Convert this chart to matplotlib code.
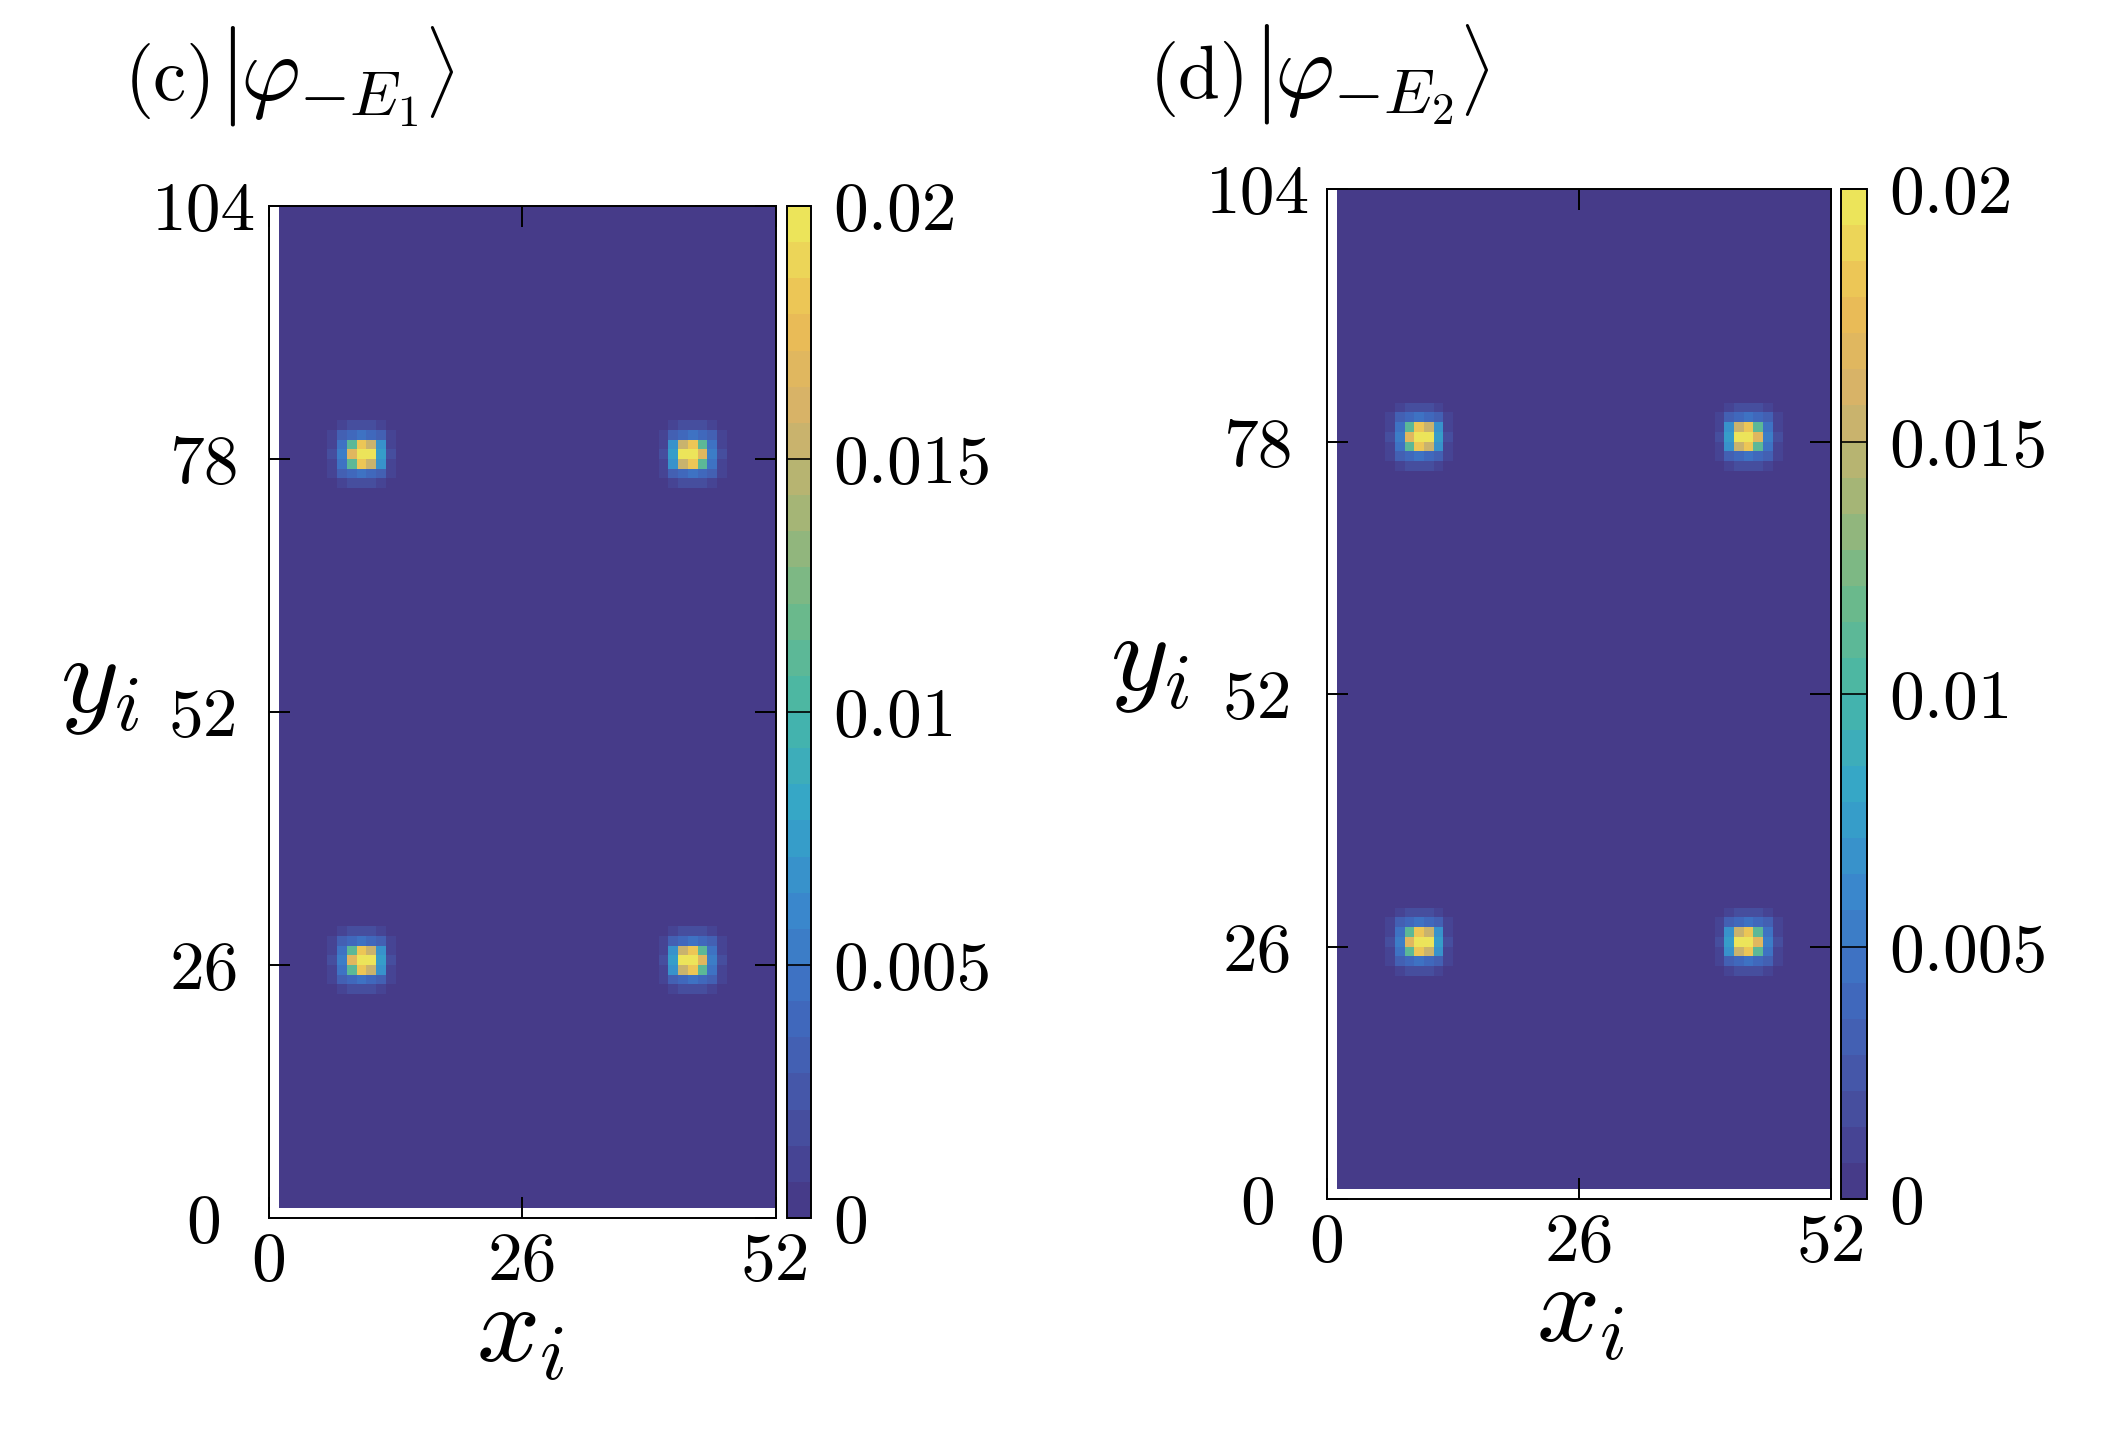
import numpy as np
import matplotlib
matplotlib.use("Agg")
import matplotlib.pyplot as plt
from matplotlib.colors import LinearSegmentedColormap

plt.rcParams['font.family'] = 'serif'
plt.rcParams['font.serif'] = ['cmr10']
plt.rcParams['mathtext.fontset'] = 'cm'
plt.rcParams['axes.unicode_minus'] = False

# lattice edges (sites 1..52 x 1..104)
x_edges = np.arange(1, 53)
y_edges = np.arange(1, 105)

# one localized spot (rows top -> bottom)
spot = [
    [0.0003, 0.0010, 0.0015, 0.0018, 0.0015, 0.0010, 0.0003],
    [0.0008, 0.0030, 0.0040, 0.0048, 0.0040, 0.0030, 0.0008],
    [0.0012, 0.0045, 0.0110, 0.0185, 0.0155, 0.0068, 0.0012],
    [0.0015, 0.0050, 0.0168, 0.0202, 0.0198, 0.0075, 0.0015],
    [0.0012, 0.0045, 0.0110, 0.0185, 0.0155, 0.0068, 0.0012],
    [0.0008, 0.0030, 0.0040, 0.0048, 0.0040, 0.0030, 0.0008],
    [0.0003, 0.0010, 0.0015, 0.0018, 0.0015, 0.0010, 0.0003],
]
# lower-left corner of each spot patch (x, y) and whether it is mirrored
spot_x = [6, 40, 6, 40]
spot_y = [75, 75, 23, 23]
spot_flip = [False, True, False, True]

panel_tags = ['(c)', '(d)']
states = [r'$\varphi_{-E_1}$', r'$\varphi_{-E_2}$']
ticks_xy = [0, 26, 52, 78, 104]
ticks_x = [0, 26, 52]
cb_ticks = [0, 0.005, 0.01, 0.015, 0.02]
cb_labels = ['0', '0.005', '0.01', '0.015', '0.02']


def build_field():
    z = np.zeros((len(y_edges) - 1, len(x_edges) - 1))
    p = np.array(spot)[::-1]  # bottom row first
    for sx, sy, fl in zip(spot_x, spot_y, spot_flip):
        q = p[:, ::-1] if fl else p
        i0, j0 = sx - 1, sy - 1
        z[j0:j0 + 7, i0:i0 + 7] = q
    return z


anchors = ['#463b89', '#4654a6', '#3f6cc0', '#3a88cc', '#35a6c8', '#46b6a8',
           '#6db98a', '#a3b576', '#d4b26a', '#ecbc55', '#ece45a']
cmap = LinearSegmentedColormap.from_list('parula_soft', anchors, N=28)

fig = plt.figure(figsize=(21.27, 14.30), dpi=100)
W, H = 2127, 1430
renderer = fig.canvas.get_renderer()

panels = [
    dict(ax=(269, 206, 775.6, 1218), cb=(787, 811), tag=(125, 100),
         ylab=(100, 712), xlab=(520, 1362), ypad=47),
    dict(ax=(1327, 189, 1831, 1199), cb=(1841, 1867), tag=(1150, 98),
         ylab=(1150, 690), xlab=(1580, 1342), ypad=50),
]


def put_row(x0, ybase, pieces):
    # place text pieces one after another on a common baseline (pixels)
    x = x0
    for s, size, gap, dy in pieces:
        x += gap
        t = fig.text(x / W, 1 - (ybase + dy) / H, s, fontsize=size,
                     ha='left', va='baseline')
        x = t.get_window_extent(renderer).x1


for k, pn in enumerate(panels):
    l, t, r, b = pn['ax']
    ax = fig.add_axes([l / W, 1 - b / H, (r - l) / W, (b - t) / H])
    z = build_field()
    mesh = ax.pcolormesh(x_edges, y_edges, z, cmap=cmap, vmin=0, vmax=0.02,
                         shading='flat')
    ax.set_xlim(0, 52)
    ax.set_ylim(0, 104)
    ax.set_xticks(ticks_x)
    ax.set_yticks(ticks_xy)
    ax.set_xticklabels([str(v) for v in ticks_x])
    ax.set_yticklabels([str(v) for v in ticks_xy])
    ax.tick_params(direction='in', length=15, width=1.4, top=True, right=True,
                   labelsize=50, zorder=5)
    ax.tick_params(axis='x', pad=10)
    ax.tick_params(axis='y', pad=pn['ypad'])
    for lab in ax.get_yticklabels():
        lab.set_horizontalalignment('center')
    for s in ax.spines.values():
        s.set_linewidth(1.4)
        s.set_zorder(6)
    ax.set_axisbelow(False)

    c0, c1 = pn['cb']
    cax = fig.add_axes([c0 / W, 1 - b / H, (c1 - c0) / W, (b - t) / H])
    cb = fig.colorbar(mesh, cax=cax)
    cb.set_ticks(cb_ticks)
    cb.set_ticklabels(cb_labels)
    cb.outline.set_linewidth(1.4)
    cax.tick_params(direction='in', length=(c1 - c0) * 0.72, width=1.2,
                    labelsize=50, pad=16)

    tx, ty = pn['tag']
    put_row(tx, ty, [(panel_tags[k], 54, 0, 0),
                     (r'$|$', 72, 2, 0),
                     (states[k], 66, 4, 0),
                     (r'$\rangle$', 54, 6, 0)])
    fig.text(pn['ylab'][0] / W, 1 - pn['ylab'][1] / H, r'$y_i$',
             fontsize=80, ha='center', va='baseline')
    fig.text(pn['xlab'][0] / W, 1 - pn['xlab'][1] / H, r'$x_i$',
             fontsize=80, ha='center', va='baseline')

fig.savefig('out.png', dpi=100)
